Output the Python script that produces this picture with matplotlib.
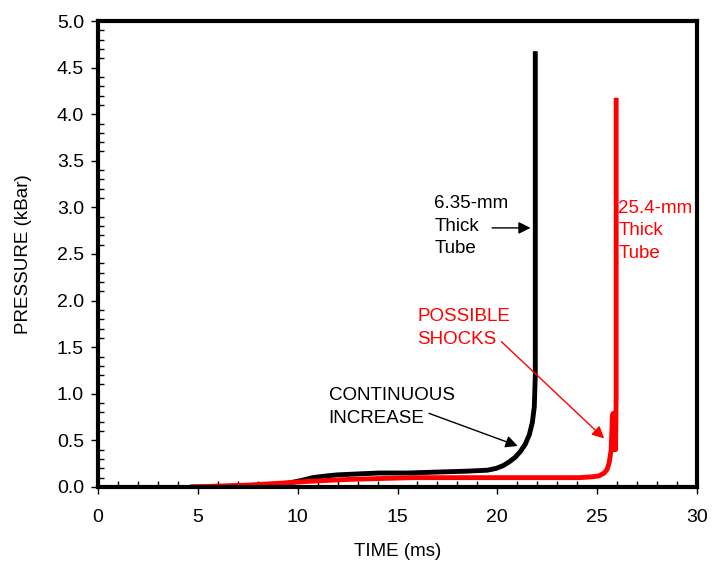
import matplotlib.pyplot as plt
from matplotlib.ticker import MultipleLocator, FormatStrFormatter

plt.rcParams['font.family'] = ['Liberation Sans', 'DejaVu Sans']

# 6.35-mm thick tube (black)
t_thin = [4.75, 6.0, 7.0, 8.0, 8.6, 9.5, 10.2, 10.75, 11.5, 12.0, 13.0, 14.1,
          15.5, 17.0, 18.5, 19.5, 19.95, 20.3, 20.6, 20.9, 21.15, 21.4, 21.6,
          21.75, 21.85, 21.9, 21.9]
p_thin = [0.0, 0.0, 0.01, 0.01, 0.02, 0.04, 0.07, 0.1, 0.12, 0.13, 0.14, 0.15,
          0.15, 0.16, 0.17, 0.18, 0.2, 0.23, 0.27, 0.32, 0.38, 0.46, 0.56,
          0.69, 0.86, 1.2, 4.65]

# 25.4-mm thick tube (red)
t_thick = [4.75, 6.0, 7.5, 9.1, 10.5, 12.4, 14.0, 15.75, 18.0, 20.0, 22.0,
           24.1, 24.8, 25.1, 25.35, 25.5, 25.6, 25.7, 25.76, 25.8, 25.84,
           25.88, 25.92, 25.95, 25.95]
p_thick = [0.0, 0.01, 0.02, 0.04, 0.06, 0.08, 0.09, 0.1, 0.1, 0.1, 0.1,
           0.1, 0.11, 0.12, 0.15, 0.19, 0.26, 0.4, 0.76, 0.79, 0.4, 0.7,
           0.4, 1.0, 4.15]

fig = plt.figure(figsize=(7.12, 5.62), dpi=100)
ax = fig.add_axes([0.1376, 0.1335, 0.8414, 0.8291])

ax.plot(t_thin, p_thin, color='black', lw=3.5, solid_joinstyle='round')
ax.plot(t_thick, p_thick, color='red', lw=3.5, solid_joinstyle='round')

ax.set_xlim(0, 30)
ax.set_ylim(0, 5.0)
ax.xaxis.set_major_locator(MultipleLocator(5))
ax.xaxis.set_minor_locator(MultipleLocator(1))
ax.yaxis.set_major_locator(MultipleLocator(0.5))
ax.yaxis.set_minor_locator(MultipleLocator(0.1))
ax.yaxis.set_major_formatter(FormatStrFormatter('%.1f'))
ax.tick_params(which='major', direction='out', length=5, width=1, labelsize=14, pad=5)
ax.tick_params(axis='x', which='major', pad=11)
ax.tick_params(which='minor', direction='in', length=4, width=1)
for s in ax.spines.values():
    s.set_linewidth(3)

ax.set_xlabel('TIME (ms)', fontsize=13.5, labelpad=12)
ax.set_ylabel('PRESSURE (kBar)', fontsize=13.5, labelpad=18)

fs = 13.5
ls = 1.42
ax.text(16.85, 3.13, '6.35-mm\nThick\nTube', fontsize=fs, va='top', ha='left',
        linespacing=ls)
ax.annotate('', xy=(21.8, 2.78), xytext=(19.6, 2.78),
            arrowprops=dict(arrowstyle='-|>', color='black', lw=1, mutation_scale=18))

ax.text(26.05, 3.08, '25.4-mm\nThick\nTube', fontsize=fs, va='top', ha='left',
        color='red', linespacing=ls)

ax.text(16.0, 1.92, 'POSSIBLE\nSHOCKS', fontsize=fs, va='top', ha='left',
        color='red', linespacing=ls)
ax.annotate('', xy=(25.45, 0.5), xytext=(20.1, 1.58),
            arrowprops=dict(arrowstyle='-|>', color='red', lw=1, mutation_scale=18))

ax.text(11.55, 1.07, 'CONTINUOUS\nINCREASE', fontsize=fs, va='top', ha='left',
        linespacing=ls)
ax.annotate('', xy=(21.15, 0.43), xytext=(16.45, 0.8),
            arrowprops=dict(arrowstyle='-|>', color='black', lw=1, mutation_scale=18))

fig.savefig('out.png', dpi=100)
